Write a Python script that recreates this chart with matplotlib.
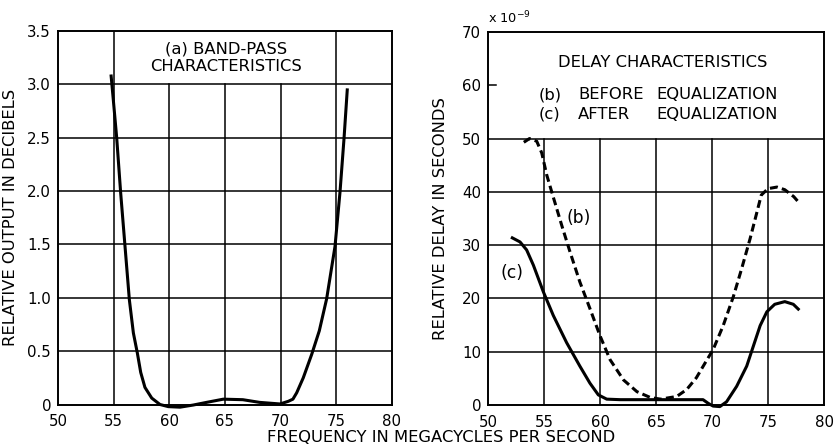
import numpy as np
import matplotlib
matplotlib.use("Agg")
import matplotlib.pyplot as plt

# ---- data ----
bp_freq = [54.76, 54.97, 55.27, 55.63, 56.02, 56.41, 56.77, 57.13, 57.43, 57.81,
           58.42, 59.16, 59.91, 60.96, 62.15, 63.35, 64.85, 66.6, 68.1, 69.94,
           70.69, 71.1, 71.44, 72.03, 72.79, 73.47, 74.13, 74.88, 75.33,
           75.69, 75.99]
bp_db = [3.09, 2.85, 2.50, 1.98, 1.48, 0.98, 0.67, 0.48, 0.30, 0.16,
         0.06, 0.0, -0.02, -0.025, -0.005, 0.02, 0.05, 0.045, 0.02, 0.005,
         0.03, 0.05, 0.11, 0.25, 0.47, 0.69, 0.99, 1.48, 1.99,
         2.49, 2.96]

before_freq = [53.2, 53.7, 54.35, 54.8, 55.24, 55.83, 56.6, 57.32, 58.2, 59.1,
               60.0, 60.9, 62.1, 63.3, 64.5, 65.4, 66.85, 67.74, 68.6, 69.5,
               70.1, 71.0, 71.9, 72.65, 73.4, 74.0, 74.4, 75.0, 75.8, 76.5,
               77.3, 77.8]
before_delay = [49.3, 50.0, 49.5, 47.3, 43.2, 39.0, 33.6, 28.75, 23.1, 18.1,
                13.0, 8.5, 4.7, 2.5, 1.4, 1.1, 1.6, 2.9, 5.1, 8.3,
                10.4, 14.9, 20.3, 25.6, 31.2, 36.1, 39.4, 40.6, 40.9, 40.4,
                39.1, 37.9]

after_freq = [52.05, 52.86, 53.45, 54.05, 54.94, 55.83, 57.02, 58.2, 59.1, 59.85,
              60.6, 61.8, 65.4, 69.2, 69.67, 70.1, 70.7, 71.3, 72.2, 73.1,
              73.7, 74.3, 74.9, 75.6, 76.5, 77.26, 77.8]
after_delay = [31.5, 30.6, 29.1, 26.25, 21.25, 16.8, 11.7, 7.3, 4.1, 1.9,
               1.1, 1.0, 1.0, 1.0, 0.3, -0.2, -0.3, 0.6, 3.5, 7.3,
               11.1, 14.9, 17.5, 18.9, 19.4, 18.9, 17.8]

x_ticks = [50, 55, 60, 65, 70, 75, 80]
left_yticks = [0, 0.5, 1.0, 1.5, 2.0, 2.5, 3.0, 3.5]
left_ylabels = ["0", "0.5", "1.0", "1.5", "2.0", "2.5", "3.0", "3.5"]
right_yticks = [0, 10, 20, 30, 40, 50, 60, 70]

plt.rcParams['font.family'] = ['DejaVu Sans']
FS = 11.8      # labels / annotations
TFS = 10.8     # tick labels
fig = plt.figure(figsize=(8.36, 4.44), dpi=100)
fig.patch.set_facecolor('white')

W, H = 836.0, 444.0
axL = fig.add_axes([58 / W, 1 - 404.5 / H, (392 - 58) / W, (404.5 - 30.7) / H])
axR = fig.add_axes([488 / W, 1 - 405 / H, (824 - 488) / W, (405 - 32) / H])

GRID_LW = 1.1
CURVE_LW = 2.2

for ax in (axL, axR):
    ax.set_xlim(50, 80)
    ax.set_xticks(x_ticks)
    ax.tick_params(length=0, labelsize=TFS)
    ax.tick_params(axis='x', pad=7)
    ax.tick_params(axis='y', pad=5)
    for s in ax.spines.values():
        s.set_linewidth(1.4)
        s.set_color('black')

# left panel
axL.set_ylim(0, 3.5)
axL.set_yticks(left_yticks)
axL.set_yticklabels(left_ylabels)
for xv in [55, 75]:
    axL.axvline(xv, color='black', lw=GRID_LW)
for xv in [60, 65, 70]:
    axL.axvline(xv, ymax=3.0 / 3.5, color='black', lw=GRID_LW)
for yv in [0.5, 1.0, 1.5, 2.0, 2.5, 3.0]:
    axL.axhline(yv, color='black', lw=GRID_LW)
axL.plot(bp_freq, bp_db, color='black', lw=CURVE_LW, solid_capstyle='butt',
         solid_joinstyle='round', clip_on=False)
axL.text(65.1, 3.33, "(a) BAND-PASS", ha='center', va='center', fontsize=FS)
axL.text(65.1, 3.165, "CHARACTERISTICS", ha='center', va='center', fontsize=FS)
axL.set_ylabel("RELATIVE OUTPUT IN DECIBELS", fontsize=FS)
axL.yaxis.set_label_coords((18 - 58) / 334.0, 0.5)

# right panel
axR.set_ylim(0, 70)
axR.set_yticks(right_yticks)
for xv in [55, 60, 65, 70, 75]:
    axR.axvline(xv, ymax=50 / 70, color='black', lw=GRID_LW)
for yv in [10, 20, 30, 40, 50]:
    axR.axhline(yv, color='black', lw=GRID_LW)
axR.axhline(60, xmax=0.025, color='black', lw=GRID_LW)
axR.plot(before_freq, before_delay, color='black', lw=CURVE_LW, dashes=(2.6, 1.4))
axR.plot(after_freq, after_delay, color='black', lw=CURVE_LW, clip_on=False,
         solid_capstyle='butt', solid_joinstyle='round')
axR.text(65.6, 64.2, "DELAY CHARACTERISTICS", ha='center', va='center', fontsize=FS)
axR.text(54.5, 58.2, "(b)", ha='left', va='center', fontsize=FS)
axR.text(58.05, 58.2, "BEFORE", ha='left', va='center', fontsize=FS)
axR.text(65.0, 58.2, "EQUALIZATION", ha='left', va='center', fontsize=FS)
axR.text(54.5, 54.6, "(c)", ha='left', va='center', fontsize=FS)
axR.text(58.05, 54.6, "AFTER", ha='left', va='center', fontsize=FS)
axR.text(65.0, 54.6, "EQUALIZATION", ha='left', va='center', fontsize=FS)
axR.text(58.1, 35.1, "(b)", ha='center', va='center', fontsize=FS + 0.5)
axR.text(52.1, 24.7, "(c)", ha='center', va='center', fontsize=FS + 0.5)
axR.text(0.0, 1.015, r"x 10$^{-9}$", transform=axR.transAxes, ha='left', va='bottom',
         fontsize=TFS - 1.5)
axR.set_ylabel("RELATIVE DELAY IN SECONDS", fontsize=FS)
axR.yaxis.set_label_coords((448 - 488) / 336.0, 0.5)

fig.text(441 / W, 1 - 437 / H, "FREQUENCY IN MEGACYCLES PER SECOND", ha='center',
         va='center', fontsize=FS)

fig.savefig("out.png", dpi=100, facecolor='white')
